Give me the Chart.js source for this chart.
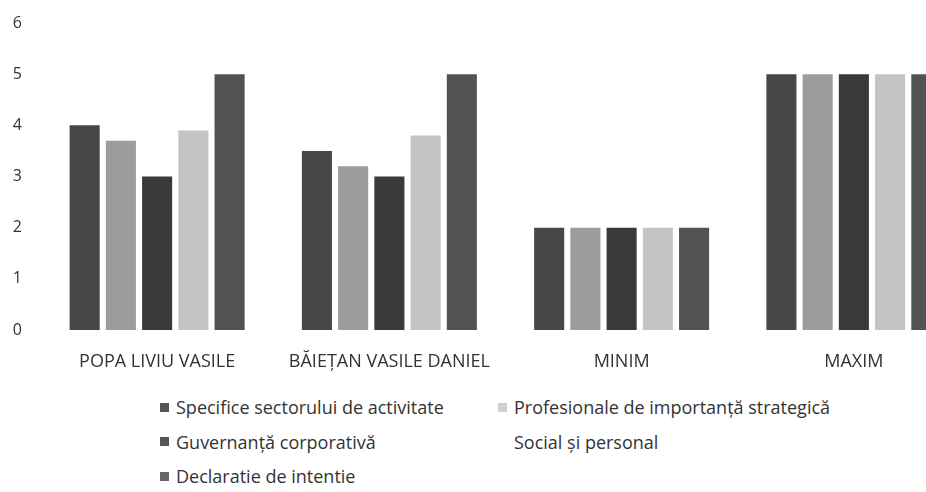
<!DOCTYPE html>
<html>
<head>
<meta charset="utf-8">
<script src="https://cdn.jsdelivr.net/npm/chart.js@4"></script>
<style>
  html, body { margin: 0; padding: 0; background: #fff; overflow: hidden; }
  body { width: 926px; height: 492px; position: relative; font-family: "Open Sans", sans-serif; }
  #wrap { position: absolute; left: 0; top: 0; width: 970px; height: 375px; }
  #legend { position: absolute; left: 160px; top: 390px; display: grid;
    grid-template-columns: 338px 340px; font-size: 18px; color: #333; }
  .item { display: flex; align-items: center; height: 34.5px; white-space: nowrap; }
  .box { width: 9px; height: 9px; margin-right: 7px; flex: none; }
</style>
</head>
<body>
<div id="wrap"><canvas id="chart"></canvas></div>
<div id="legend"></div>
<script>
// categorii
const categories = ['POPA LIVIU VASILE', 'BĂIEȚAN VASILE DANIEL', 'MINIM', 'MAXIM'];

// serii
const seriesNames = [
  'Specifice sectorului de activitate',
  'Profesionale de importanță strategică',
  'Guvernanță corporativă',
  'Social și personal',
  'Declaratie de intentie'
];
const specifice = [4.0, 3.5, 2, 5];
const profesionale = [3.7, 3.2, 2, 5];
const guvernanta = [3.0, 3.0, 2, 5];
const social = [3.9, 3.8, 2, 5];
const declaratie = [5.0, 5.0, 2, 5];

const yTicks = [0, 1, 2, 3, 4, 5, 6];

const colors = ['#474747', '#9c9c9c', '#3a3a3a', '#c4c4c4', '#525252'];
const legendColors = ['#555', '#d0d0d0', '#555', '#fff', '#666'];

const values = [specifice, profesionale, guvernanta, social, declaratie];

const chart = new Chart(document.getElementById('chart'), {
  type: 'bar',
  data: {
    labels: categories,
    datasets: values.map((v, i) => ({
      label: seriesNames[i],
      data: v,
      backgroundColor: colors[i],
      categoryPercentage: 0.78,
      barPercentage: 0.83
    }))
  },
  options: {
    responsive: true,
    maintainAspectRatio: false,
    animation: false,
    layout: { padding: { top: 23, left: 0, right: 0, bottom: 0 } },
    plugins: { legend: { display: false }, tooltip: { enabled: false } },
    scales: {
      x: {
        grid: { display: false },
        border: { display: false },
        ticks: { color: '#333', font: { family: 'Open Sans', size: 18 }, padding: 13 },
        afterFit: (scale) => { scale.height = 45; }
      },
      y: {
        min: 0,
        max: 6,
        afterBuildTicks: (scale) => { scale.ticks = yTicks.map(v => ({ value: v })); },
        grid: { display: false },
        border: { display: false },
        ticks: { color: '#333', font: { family: 'Open Sans', size: 16 }, padding: 11 },
        afterFit: (scale) => { scale.width = 41; }
      }
    }
  }
});

// legenda in doua coloane
const legend = document.getElementById('legend');
seriesNames.forEach((name, i) => {
  const item = document.createElement('div');
  item.className = 'item';
  item.innerHTML = `<span class="box" style="background:${legendColors[i]}"></span>${name}`;
  legend.appendChild(item);
});
</script>
</body>
</html>
